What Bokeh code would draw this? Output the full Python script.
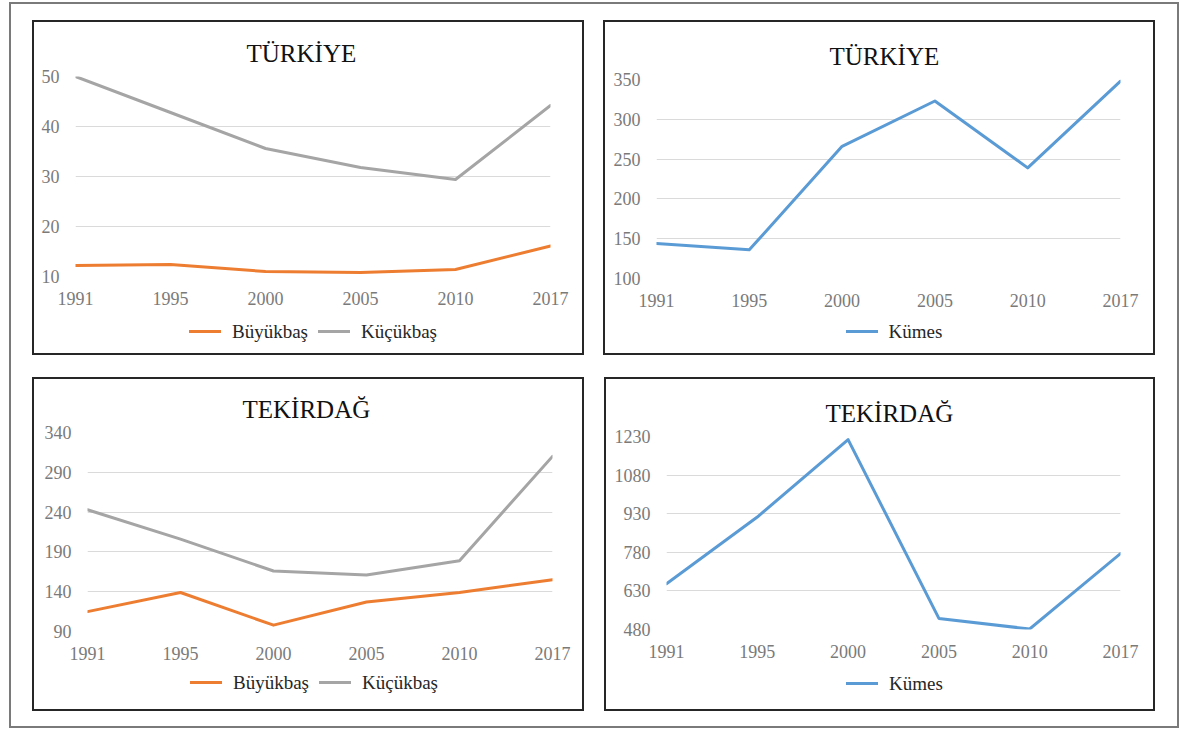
from bokeh.plotting import figure
from bokeh.layouts import row, column
from bokeh.models import Range1d, FixedTicker, Spacer, Div
from bokeh.embed import file_html
from bokeh.resources import INLINE

# ---- data ----
years = ["1991", "1995", "2000", "2005", "2010", "2017"]

turkiye_buyukbas = [12.2, 12.4, 11.0, 10.8, 11.4, 16.1]
turkiye_kucukbas = [50.0, 42.8, 35.6, 31.8, 29.4, 44.2]
turkiye_kumes = [144, 136, 266, 323, 239, 348]

tekirdag_buyukbas = [115, 139, 98, 127, 139, 155]
tekirdag_kucukbas = [243, 206, 166, 161, 179, 310]
tekirdag_kumes = [658, 917, 1218, 523, 482, 775]

turkiye_ticks = [10, 20, 30, 40, 50]
turkiye_kumes_ticks = [100, 150, 200, 250, 300, 350]
tekirdag_ticks = [90, 140, 190, 240, 290, 340]
tekirdag_kumes_ticks = [480, 630, 780, 930, 1080, 1230]

title_turkiye = "TÜRKİYE"
title_tekirdag = "TEKİRDAĞ"
name_buyuk = "Büyükbaş"
name_kucuk = "Küçükbaş"
name_kumes = "Kümes"

ORANGE = "#ED7D31"
GRAY = "#A5A5A5"
BLUE = "#5B9BD5"
SERIF = "Liberation Serif"


def make_plot(title, size, borders, ticks, series, title_left):
    width, height = size
    left, right, top, bottom = borders
    xs = list(range(len(years)))
    p = figure(width=width, height=height,
               x_range=Range1d(0, len(years) - 1),
               y_range=Range1d(ticks[0], ticks[-1]),
               output_backend="svg", toolbar_location=None,
               min_border_left=left, min_border_right=right,
               min_border_top=top, min_border_bottom=bottom,
               title=title)
    p.outline_line_color = None
    p.border_fill_alpha = 0
    p.background_fill_color = "white"

    p.title.align = "left"
    p.title.offset = title_left - left
    p.title.standoff = 20
    p.title.text_font = SERIF
    p.title.text_font_size = "25px"
    p.title.text_font_style = "normal"
    p.title.text_color = "#111111"

    p.xaxis.ticker = FixedTicker(ticks=xs)
    p.xaxis.major_label_overrides = {i: y for i, y in enumerate(years)}
    p.yaxis.ticker = FixedTicker(ticks=ticks)
    for ax in (p.xaxis, p.yaxis):
        ax.axis_line_color = None
        ax.major_tick_line_color = None
        ax.minor_tick_line_color = None
        ax.major_label_text_font = SERIF
        ax.major_label_text_font_size = "18px"
        ax.major_label_text_color = "#7a7a7a"
    p.xaxis.major_label_standoff = 9
    p.yaxis.major_label_standoff = 10

    p.xgrid.grid_line_color = None
    p.ygrid.grid_line_color = "#dadada"
    p.ygrid.grid_line_width = 1

    for name, vals, color in series:
        p.line(xs, vals, line_color=color, line_width=3,
               line_join="round", line_cap="round")
    return p


def legend_div(series, width, height, center_y, shift_x):
    parts = []
    for name, _vals, color in series:
        parts.append(
            '<span style="display:inline-flex;align-items:center;margin:0 5px">'
            f'<span style="display:inline-block;width:32px;height:0;border-top:3px solid {color};'
            'margin-right:11px"></span>'
            f'<span>{name}</span></span>')
    html = (f'<div style="width:{width}px;height:{2 * center_y}px;display:flex;'
            'justify-content:center;align-items:center;box-sizing:border-box;'
            f'padding-left:{2 * shift_x}px;font-family:\'{SERIF}\';font-size:19px;'
            'color:#262626;white-space:nowrap">' + "".join(parts) + '</div>')
    return Div(text=html, width=width, height=height, margin=(0, 0, 0, 0))


PANEL_STYLE = {"outline": "2px solid #262626", "outline-offset": "-2px"}
OUTER_STYLE = {"outline": "2px solid #7a7a7a", "outline-offset": "-2px"}

# top-left: Türkiye, large and small livestock
s1 = [(name_buyuk, turkiye_buyukbas, ORANGE), (name_kucuk, turkiye_kucukbas, GRAY)]
p1 = make_plot(title_turkiye, (552, 292), (43, 34, 56, 36), turkiye_ticks, s1, 214)
panel1 = column(p1, legend_div(s1, 552, 43, 20, 5), styles=PANEL_STYLE)

# top-right: Türkiye, poultry
s2 = [(name_kumes, turkiye_kumes, BLUE)]
p2 = make_plot(title_turkiye, (552, 294), (53, 35, 59, 36), turkiye_kumes_ticks, s2, 226)
panel2 = column(p2, legend_div(s2, 552, 41, 18, 15), styles=PANEL_STYLE)

# bottom-left: Tekirdağ, large and small livestock
s3 = [(name_buyuk, tekirdag_buyukbas, ORANGE), (name_kucuk, tekirdag_kucukbas, GRAY)]
p3 = make_plot(title_tekirdag, (552, 290), (55, 32, 55, 36), tekirdag_ticks, s3, 210)
panel3 = column(p3, legend_div(s3, 552, 44, 16, 6), styles=PANEL_STYLE)

# bottom-right: Tekirdağ, poultry
s4 = [(name_kumes, tekirdag_kumes, BLUE)]
p4 = make_plot(title_tekirdag, (551, 288), (62, 35, 59, 36), tekirdag_kumes_ticks, s4, 221)
panel4 = column(p4, legend_div(s4, 551, 46, 19, 15), styles=PANEL_STYLE)

top_row = row(Spacer(width=23, height=335), panel1, Spacer(width=19, height=335), panel2,
              Spacer(width=24, height=335))
bottom_row = row(Spacer(width=23, height=334), panel3, Spacer(width=20, height=334), panel4,
                 Spacer(width=24, height=334))
frame = column(Spacer(width=1170, height=18), top_row, Spacer(width=1170, height=22),
               bottom_row, Spacer(width=1170, height=17), styles=OUTER_STYLE)
root = column(Spacer(width=1179, height=2), row(Spacer(width=9, height=726), frame))

open("out.html", "w").write(file_html(root, INLINE))
